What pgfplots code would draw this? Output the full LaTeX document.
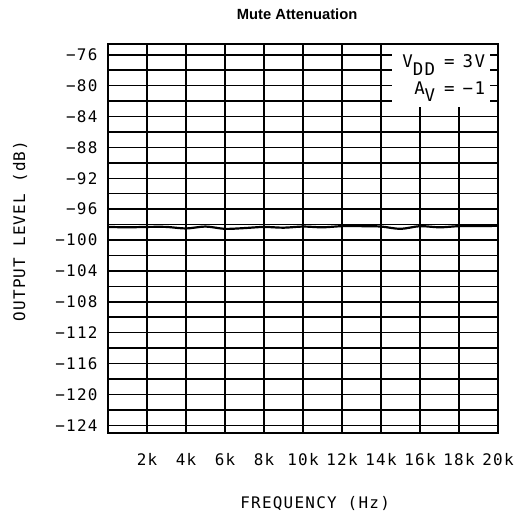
\documentclass[border=0pt]{standalone}
\usepackage{pgfplots}
\pgfplotsset{compat=1.18}
\usepackage{fontspec}
\setmainfont{Liberation Sans}
\newfontfamily\plotfont[LetterSpace=8]{DejaVu Sans Mono}
\newcommand{\pf}{\plotfont\fontsize{16}{17}\selectfont}
\newcommand{\af}{\plotfont\fontsize{17.5}{18}\selectfont}
\begin{document}
\begin{tikzpicture}
\begin{axis}[
  scale only axis,
  width=390bp, height=389bp,
  xmin=0, xmax=20000,
  ymin=-125, ymax=-74.6,
  scaled x ticks=false,
  xtick={2000,4000,6000,8000,10000,12000,14000,16000,18000,20000},
  xticklabels={2k,4k,6k,8k,10k,12k,14k,16k,18k,20k},
  ytick={-124,-120,-116,-112,-108,-104,-100,-96,-92,-88,-84,-80,-76},
  yticklabels={−124,−120,−116,−112,−108,−104,−100,−96,−92,−88,−84,−80,−76},
  minor ytick={-122,-118,-114,-110,-106,-102,-98,-94,-90,-86,-82,-78},
  xmajorgrids, ymajorgrids, yminorgrids,
  grid style={black, line width=1.5bp},
  minor grid style={black, line width=1.5bp},
  major tick length=0pt, minor tick length=0pt,
  axis line style={black, line width=2bp},
  ticklabel style={font=\pf},
  yticklabel style={xshift=-7bp},
  xticklabel style={yshift=-17bp},
  clip=false,
]
\addplot[black, line width=2.2bp, smooth, tension=0.5] coordinates {
(0,-98.3) (1000,-98.35) (2000,-98.3) (3000,-98.3) (4000,-98.5) (5000,-98.25)
(6000,-98.55) (7000,-98.45) (8000,-98.3) (9000,-98.4) (10000,-98.25)
(11000,-98.35) (12000,-98.2) (13000,-98.2) (14000,-98.25) (15000,-98.55)
(16000,-98.2) (17000,-98.35) (18000,-98.2) (19000,-98.2) (20000,-98.15)
};
\fill[white] (axis cs:14550,-82.8) rectangle (axis cs:19600,-74.6);
\draw[black, line width=2bp] (rel axis cs:0,1) -- (rel axis cs:1,1) -- (rel axis cs:1,0);
\node[anchor=base east, font=\af, inner sep=0pt] at (axis cs:19350,-77.6) {V\raisebox{-8bp}{DD}\hspace{9bp}=\hspace{8bp}3V};
\node[anchor=base east, font=\af, inner sep=0pt] at (axis cs:19350,-81.2) {A\raisebox{-7bp}{V}\hspace{9bp}=\hspace{8bp}−1};
\node[font=\pf, rotate=90] at (rel axis cs:-0.2256,0.519) {OUTPUT LEVEL (dB)};
\node[font=\pf] at (rel axis cs:0.531,-0.1825) {FREQUENCY (Hz)};
\node[font=\bfseries\fontsize{14.8}{16}\selectfont] at (rel axis cs:0.485,1.077) {Mute Attenuation};
\path (rel axis cs:0,0) ++(-108bp,-83bp) coordinate (bbA);
\path (rel axis cs:1,1) ++(24bp,44bp) coordinate (bbB);
\end{axis}
\path (bbA) rectangle (bbB);
\end{tikzpicture}
\end{document}
